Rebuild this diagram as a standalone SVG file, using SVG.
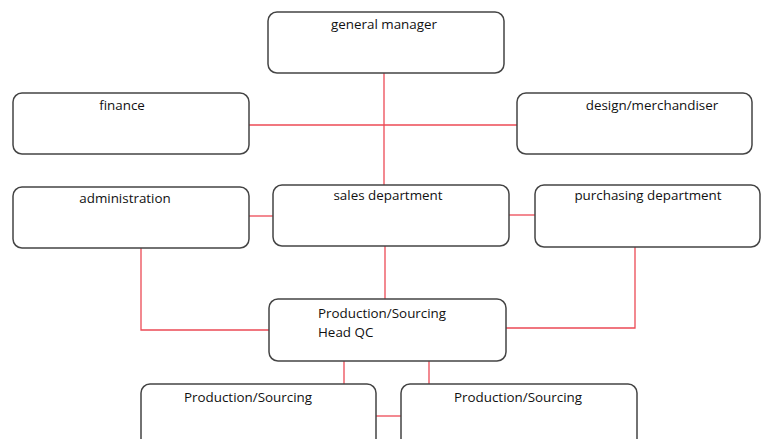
<svg xmlns="http://www.w3.org/2000/svg" width="761" height="439" viewBox="0 0 761 439">
<style>
.box{fill:#fff;stroke:#444;stroke-width:1.5}
.t{font-family:"Open Sans","Noto Sans",sans-serif;font-size:13.4px;fill:#111}
.c{text-anchor:middle}
.ln{fill:none;stroke:#ec4a55;stroke-width:1.3}
</style>
<rect width="761" height="439" fill="#fff"/>
<g id="connectors">
<path class="ln" d="M384 73V185"/>
<path class="ln" d="M249 125H517"/>
<path class="ln" d="M249 216H273"/>
<path class="ln" d="M509 215H535"/>
<path class="ln" d="M385 246V299"/>
<path class="ln" d="M141 248V330H269"/>
<path class="ln" d="M635 247V328H506"/>
<path class="ln" d="M344 361V384"/>
<path class="ln" d="M429 361V384"/>
<path class="ln" d="M376 416H401"/>
</g>
<g id="general-manager"><rect class="box" x="268" y="12" width="236" height="61" rx="9"/><text class="t c" x="384" y="29">general manager</text></g>
<g id="finance"><rect class="box" x="13" y="93" width="236" height="61" rx="9"/><text class="t c" x="122" y="110">finance</text></g>
<g id="design-merchandiser"><rect class="box" x="517" y="93" width="235" height="61" rx="9"/><text class="t c" x="652" y="110">design/merchandiser</text></g>
<g id="administration"><rect class="box" x="13" y="187" width="236" height="61" rx="9"/><text class="t c" x="125" y="203">administration</text></g>
<g id="sales-department"><rect class="box" x="273" y="185" width="236" height="61" rx="9"/><text class="t c" x="388" y="200">sales department</text></g>
<g id="purchasing-department"><rect class="box" x="535" y="185" width="225" height="62" rx="9"/><text class="t c" x="648" y="200">purchasing department</text></g>
<g id="head-qc"><rect class="box" x="269" y="299" width="237" height="62" rx="9"/><text class="t" x="318" y="318">Production/Sourcing</text><text class="t" x="318" y="337">Head QC</text></g>
<g id="production-sourcing-1"><rect class="box" x="141" y="384" width="235" height="70" rx="9"/><text class="t c" x="248" y="402">Production/Sourcing</text></g>
<g id="production-sourcing-2"><rect class="box" x="401" y="384" width="236" height="70" rx="9"/><text class="t c" x="518" y="402">Production/Sourcing</text></g>
</svg>
